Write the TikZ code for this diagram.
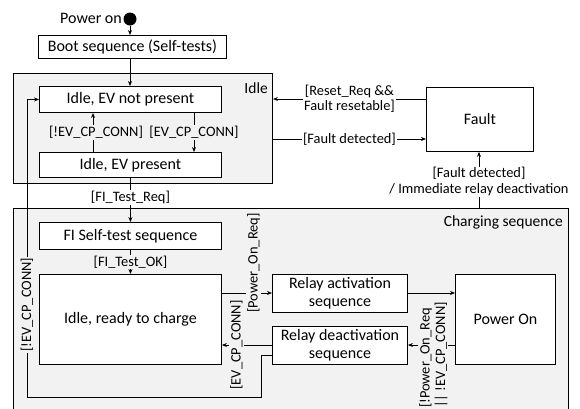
\documentclass[tikz,border=0pt]{standalone}
\usepackage{fontspec}
\setmainfont{Carlito}
\usetikzlibrary{arrows.meta,calc}

\definecolor{panel}{HTML}{F2F2F2}

\tikzset{
  statebox/.style={draw, fill=white, line width=0.9pt, anchor=north west,
    inner sep=0pt, align=center, font=\fontsize{16}{17.5}\selectfont},
  group/.style={draw, fill=panel, line width=0.9pt, anchor=north west, inner sep=0pt},
  title/.style={inner sep=0pt, font=\fontsize{15.5}{17}\selectfont},
  arr/.style={-{Stealth[length=5pt,width=4pt]}, line width=0.8pt},
  lbl/.style={inner sep=1pt, align=center, font=\fontsize{14.4}{15.5}\selectfont},
}

\begin{document}
\begin{tikzpicture}[x=1pt, y=-1pt]
\clip (0,0) rectangle (580,408);
\fill[white] (0,0) rectangle (580,408);

% composite states
\node[group, minimum width=259pt, minimum height=110pt] (idlegrp) at (13,73) {};
\node[group, minimum width=555pt, minimum height=240pt] (chggrp) at (13,208) {};
\node[title, anchor=east] (idlettl) at (268,88) {Idle};
\node[title, anchor=east] (chgttl) at (563,222) {Charging sequence};

% initial pseudo state
\node[circle, fill=black, minimum size=13pt, inner sep=0pt] (start) at (130,19) {};
\node[title, anchor=east, inner sep=0pt, font=\fontsize{16}{17.5}\selectfont] (pwron) at (122,18) {Power on};

% states
\node[statebox, minimum width=188pt, minimum height=23pt] (boot) at (38,35) {Boot sequence (Self-tests)};
\node[statebox, minimum width=182pt, minimum height=26pt] (np) at (39,86) {Idle, EV not present};
\node[statebox, minimum width=182pt, minimum height=25pt] (ep) at (39,152) {Idle, EV present};
\node[statebox, minimum width=107pt, minimum height=64pt] (fault) at (426,87) {Fault};
\node[statebox, minimum width=182pt, minimum height=27pt] (fi) at (39,222) {FI Self-test sequence};
\node[statebox, minimum width=182pt, minimum height=90pt] (ready) at (39,274) {Idle, ready to charge};
\node[statebox, minimum width=135pt, minimum height=38pt] (act) at (272,274) {Relay activation\\sequence};
\node[statebox, minimum width=135pt, minimum height=38pt] (deact) at (272,326) {Relay deactivation\\sequence};
\node[statebox, minimum width=100pt, minimum height=90pt] (pon) at (455,274) {Power On};

% helper coordinates for the orthogonal connectors
\coordinate (xL) at (93,0);
\coordinate (xR) at (194,0);
\coordinate (xF) at (479,0);
\coordinate (yReset) at (0,99);
\coordinate (yFault) at (0,139);
\coordinate (yOn) at (0,293);
\coordinate (yOff) at (0,345);
\coordinate (yBack) at (0,355);
\coordinate (lpA) at (261,397);
\coordinate (lpB) at (27,397);

% transitions
\draw[arr] (start.south) -- (start.south |- boot.north);
\draw[arr] (boot.south -| start) -- (np.north -| start);

\draw[arr] (ep.north -| xL) -- node[lbl, fill=panel, xshift=3pt] (l1) {[!EV\_CP\_CONN]} (np.south -| xL);
\draw[arr] (np.south -| xR) -- node[lbl, fill=panel] (l2) {[EV\_CP\_CONN]} (ep.north -| xR);

\draw[arr] (fault.west |- yReset) -- node[lbl, fill=white] (l3) {[Reset\_Req \&\&\\Fault resetable]} (idlegrp.east |- yReset);
\draw[arr] (idlegrp.east |- yFault) -- node[lbl, fill=white] (l4) {[Fault detected]} (fault.west |- yFault);
\draw[arr] (chggrp.north -| xF) -- node[lbl, fill=white, pos=0.47] (l5) {[Fault detected]\\/ Immediate relay deactivation} (fault.south -| xF);

\draw[arr] (ep.south) -- node[lbl, fill=white, pos=0.45] (l6) {[FI\_Test\_Req]} (fi.north);
\draw[arr] (fi.south) -- node[lbl, fill=panel] (l7) {[FI\_Test\_OK]} (ready.north);

\draw[arr] (ready.east |- yOn) -- node[lbl, fill=panel, pos=0.63, yshift=30pt, rotate=90] (l8) {[Power\_On\_Req]} (act.west |- yOn);
\draw[arr] (act.east |- yOn) -- (pon.west |- yOn);
\draw[arr] (pon.west |- yOff) -- node[lbl, fill=panel, pos=0.46, yshift=-10pt, rotate=90, align=left] (l9) {[!Power\_On\_Req\\|| !EV\_CP\_CONN]} (deact.east |- yOff);
\draw[arr] (deact.west |- yOff) -- node[lbl, fill=panel, pos=0.71, rotate=90] (l10) {[EV\_CP\_CONN]} (ready.east |- yOff);

\draw[arr] (deact.west |- yBack) -| (lpA) -- (lpB)
  -- node[lbl, fill=panel, pos=0.31, rotate=90] (l11) {[!EV\_CP\_CONN]} (lpB |- np.west) -- (np.west);
\end{tikzpicture}
\end{document}
